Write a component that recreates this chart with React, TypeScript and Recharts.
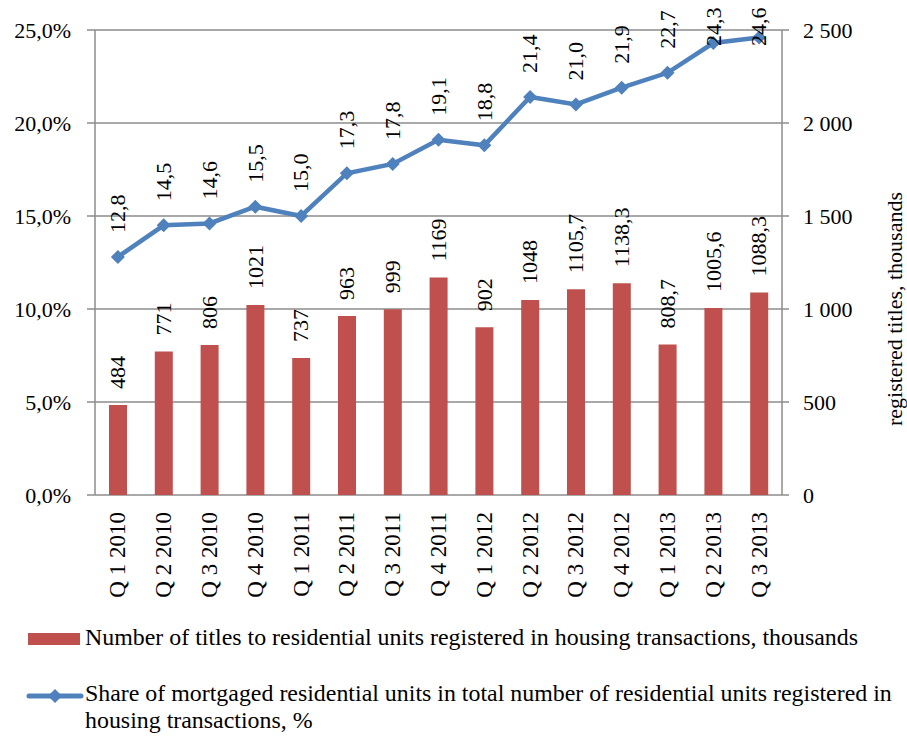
import React from 'react';
import { ComposedChart, Bar, Line, XAxis, YAxis, CartesianGrid, LabelList, Legend } from 'recharts';

const categories = ['Q 1 2010', 'Q 2 2010', 'Q 3 2010', 'Q 4 2010', 'Q 1 2011', 'Q 2 2011', 'Q 3 2011', 'Q 4 2011', 'Q 1 2012', 'Q 2 2012', 'Q 3 2012', 'Q 4 2012', 'Q 1 2013', 'Q 2 2013', 'Q 3 2013'];
const titles = [484, 771, 806, 1021, 737, 963, 999, 1169, 902, 1048, 1105.7, 1138.3, 808.7, 1005.6, 1088.3];
const share = [12.8, 14.5, 14.6, 15.5, 15.0, 17.3, 17.8, 19.1, 18.8, 21.4, 21.0, 21.9, 22.7, 24.3, 24.6];
const leftTicks = [0, 5, 10, 15, 20, 25];
const rightTicks = [0, 500, 1000, 1500, 2000, 2500];
const edgeTicks = [0, 1, 2, 3, 4, 5, 6, 7, 8, 9, 10, 11, 12, 13, 14, 15];

const barName = 'Number of titles to residential units registered in housing transactions, thousands';
const lineName = 'Share of mortgaged residential units in total number of residential units registered in';
const lineName2 = 'housing transactions, %';
const rightAxisTitle = 'registered titles, thousands';

const data = categories.map((c, i) => ({ cat: c, titles: titles[i], share: share[i], idx: i + 0.5 }));

const FONT = '"Liberation Serif", "Times New Roman", serif';
const RED = '#C0504D';
const BLUE = '#4F81BD';
const GRID = '#8c8c8c';

const fmtPct = (v: number) => v.toFixed(1).replace('.', ',') + '%';
const fmtThousands = (v: number) => {
  const s = String(v);
  return s.length > 3 ? s.slice(0, s.length - 3) + ' ' + s.slice(s.length - 3) : s;
};
const fmtComma = (v: number) => (Number.isInteger(v) ? String(v) : String(v).replace('.', ','));
const fmtOne = (v: number) => v.toFixed(1).replace('.', ',');

const CatTick = (props: any) => {
  const { x, y, payload } = props;
  return (
    <text x={x} y={y} transform={`rotate(-90 ${x} ${y})`} textAnchor="end" dy="0.33em" fontFamily={FONT} fontSize={23} fill="#000">
      {payload.value}
    </text>
  );
};

const BarLabel = (props: any) => {
  const { x, y, width, value } = props;
  const cx = x + width / 2;
  const by = y - 16;
  return (
    <text x={cx} y={by} transform={`rotate(-90 ${cx} ${by})`} textAnchor="start" dy="0.33em" fontFamily={FONT} fontSize={22} fill="#000">
      {fmtComma(value)}
    </text>
  );
};

const LineLabel = (props: any) => {
  const { x, y, value } = props;
  const by = Math.max(y - 24, 46);
  return (
    <text x={x} y={by} transform={`rotate(-90 ${x} ${by})`} textAnchor="start" dy="0.33em" fontFamily={FONT} fontSize={22} fill="#000">
      {fmtOne(value)}
    </text>
  );
};

const Diamond = (props: any) => {
  const { cx, cy, index } = props;
  const r = 7;
  return <path key={`d${index}`} d={`M${cx},${cy - r} L${cx + r},${cy} L${cx},${cy + r} L${cx - r},${cy} Z`} fill={BLUE} />;
};

const RightTitle = (props: any) => {
  const { viewBox } = props;
  const x = viewBox.x + 113;
  const y = viewBox.y + viewBox.height * 0.6;
  return (
    <text x={x} y={y} transform={`rotate(-90 ${x} ${y})`} textAnchor="middle" dy="0.33em" fontFamily={FONT} fontSize={22} fill="#000">
      {rightAxisTitle}
    </text>
  );
};

const LegendContent = () => (
  <div style={{ position: 'relative', width: 907, height: 116, fontFamily: FONT, fontSize: 23.9, color: '#000', lineHeight: '27px' }}>
    <svg width={60} height={20} style={{ position: 'absolute', left: 25, top: 9 }}>
      <rect x={3} y={4} width={52} height={12} fill={RED} />
    </svg>
    <div style={{ position: 'absolute', left: 85, top: 4, whiteSpace: 'nowrap' }}>{barName}</div>
    <svg width={62} height={20} style={{ position: 'absolute', left: 24, top: 66 }}>
      <line x1={5} y1={10} x2={57} y2={10} stroke={BLUE} strokeWidth={5} strokeLinecap="round" />
      <path d="M31,3 L38,10 L31,17 L24,10 Z" fill={BLUE} />
    </svg>
    <div style={{ position: 'absolute', left: 85, top: 60, whiteSpace: 'nowrap' }}>
      {lineName}
      <br />
      {lineName2}
    </div>
  </div>
);

export default function App() {
  return (
    <div style={{ position: 'absolute', left: 0, top: 0, width: 907, height: 736, background: '#fff' }}>
      <ComposedChart width={907} height={736} data={data} margin={{ top: 30, right: 0, left: 0, bottom: 111 }}>
        <CartesianGrid yAxisId="left" vertical={false} stroke={GRID} strokeWidth={1.5} />
        <XAxis
          xAxisId="edges"
          type="number"
          dataKey="idx"
          domain={[0, 15]}
          ticks={edgeTicks}
          allowDataOverflow
          height={0}
          tick={false}
          tickSize={8}
          tickLine={{ stroke: GRID, strokeWidth: 1.5 }}
          axisLine={{ stroke: GRID, strokeWidth: 1.5 }}
        />
        <XAxis
          xAxisId="cat"
          dataKey="cat"
          height={130}
          interval={0}
          tickLine={false}
          axisLine={false}
          tickSize={8}
          tickMargin={9}
          tick={<CatTick />}
        />
        <YAxis
          yAxisId="left"
          orientation="left"
          width={95}
          domain={[0, 25]}
          ticks={leftTicks}
          tickFormatter={fmtPct}
          tickSize={8}
          tickMargin={16}
          tick={{ fontFamily: FONT, fontSize: 22, fill: '#000' }}
          tickLine={{ stroke: GRID, strokeWidth: 1.5 }}
          axisLine={{ stroke: GRID, strokeWidth: 1.5 }}
        />
        <YAxis
          yAxisId="right"
          orientation="right"
          width={125}
          domain={[0, 2500]}
          ticks={rightTicks}
          tickFormatter={fmtThousands}
          tickSize={7}
          tickMargin={14}
          tick={{ fontFamily: FONT, fontSize: 22, fill: '#000', textAnchor: 'start' }}
          tickLine={{ stroke: GRID, strokeWidth: 1.5 }}
          axisLine={{ stroke: GRID, strokeWidth: 1.5 }}
          label={<RightTitle />}
        />
        <Legend
          layout="horizontal"
          verticalAlign="middle"
          align="center"
          content={<LegendContent />}
          wrapperStyle={{ position: 'absolute', left: 0, top: 620, width: 907, height: 116 }}
        />
        <Bar xAxisId="cat" yAxisId="right" dataKey="titles" name={barName} fill={RED} barSize={18} isAnimationActive={false}>
          <LabelList dataKey="titles" content={<BarLabel />} />
        </Bar>
        <Line
          xAxisId="cat"
          yAxisId="left"
          dataKey="share"
          name={lineName}
          stroke={BLUE}
          strokeWidth={4.5}
          dot={Diamond}
          activeDot={false}
          isAnimationActive={false}
        >
          <LabelList dataKey="share" content={<LineLabel />} />
        </Line>
      </ComposedChart>
    </div>
  );
}
